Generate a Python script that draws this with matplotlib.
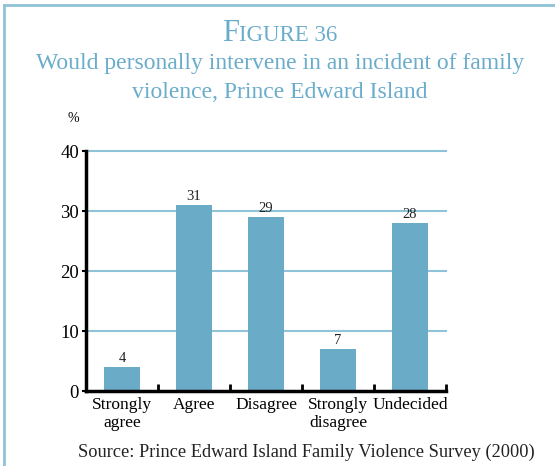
import matplotlib
matplotlib.use("Agg")
import matplotlib.pyplot as plt
from matplotlib.lines import Line2D
from matplotlib.ticker import FixedLocator

categories = ["Strongly\nagree", "Agree", "Disagree", "Strongly\ndisagree", "Undecided"]
values = [4, 31, 29, 7, 28]
yticks = [0, 10, 20, 30, 40]

BAR = "#6aabc8"
GRID = "#8fc3d7"
TITLE = "#6aaccb"
SERIF = ["Liberation Serif", "DejaVu Serif"]

fig = plt.figure(figsize=(5.55, 4.66), dpi=100)
ax = fig.add_axes([86/555, 1-391/466, 360/555, 240/466])

x = list(range(len(categories)))
ax.bar(x, values, width=0.5, color=BAR, zorder=2)
for xi, v in zip(x, values):
    ax.text(xi, v + 0.4, str(v), ha="center", va="bottom", fontsize=10.5,
            family=SERIF, color="#222222")

ax.set_xlim(-0.5, 4.5)
ax.set_ylim(0, 40)
ax.set_yticks(yticks)
ax.set_yticklabels([str(t) for t in yticks], family=SERIF, fontsize=13.5)
for t in yticks[1:]:
    ax.axhline(t, color=GRID, lw=1.5, zorder=1, clip_on=False)

ax.set_xticks(x)
ax.set_xticklabels(categories, family=SERIF, fontsize=12.5, linespacing=1.2)
ax.tick_params(axis="x", which="major", length=0, pad=4)
ax.xaxis.set_minor_locator(FixedLocator([0.5, 1.5, 2.5, 3.5, 4.5]))
ax.tick_params(axis="x", which="minor", direction="in", length=5, width=2, color="black")
ax.tick_params(axis="y", direction="out", length=3, width=1.5, pad=2)

for s in ["top", "right"]:
    ax.spines[s].set_visible(False)
for s in ["left", "bottom"]:
    ax.spines[s].set_linewidth(2.5)
    ax.spines[s].set_zorder(3)

fig.text(73/555, 1-118/466, "%", family=SERIF, fontsize=10, ha="center", va="center")

# Title with small caps
fig.canvas.draw()
r = fig.canvas.get_renderer()
t1 = fig.text(0, 1-41/466, "F", family=SERIF, fontsize=22, color=TITLE, va="baseline")
t2 = fig.text(0, 1-41/466, "IGURE 36", family=SERIF, fontsize=16.5, color=TITLE, va="baseline")
w1 = t1.get_window_extent(r).width
w2 = t2.get_window_extent(r).width
start = 280 - (w1 + w2) / 2
t1.set_x(start / 555)
t2.set_x((start + w1) / 555)

fig.text(280/555, 1-64/466, "Would personally intervene in an incident of family",
         family=SERIF, fontsize=17, color=TITLE, ha="center", va="center")
fig.text(280/555, 1-93/466, "violence, Prince Edward Island",
         family=SERIF, fontsize=17, color=TITLE, ha="center", va="center")

fig.text(306/555, 1-452/466, "Source: Prince Edward Island Family Violence Survey (2000)",
         family=SERIF, fontsize=13.2, color="#222222", ha="center", va="center")

# frame
fig.add_artist(Line2D([4/555, 1], [1-5/466, 1-5/466], color=GRID, lw=2, transform=fig.transFigure))
fig.add_artist(Line2D([4/555, 4/555], [0, 1-5/466], color=GRID, lw=2, transform=fig.transFigure))

fig.savefig("out.png", dpi=100)
